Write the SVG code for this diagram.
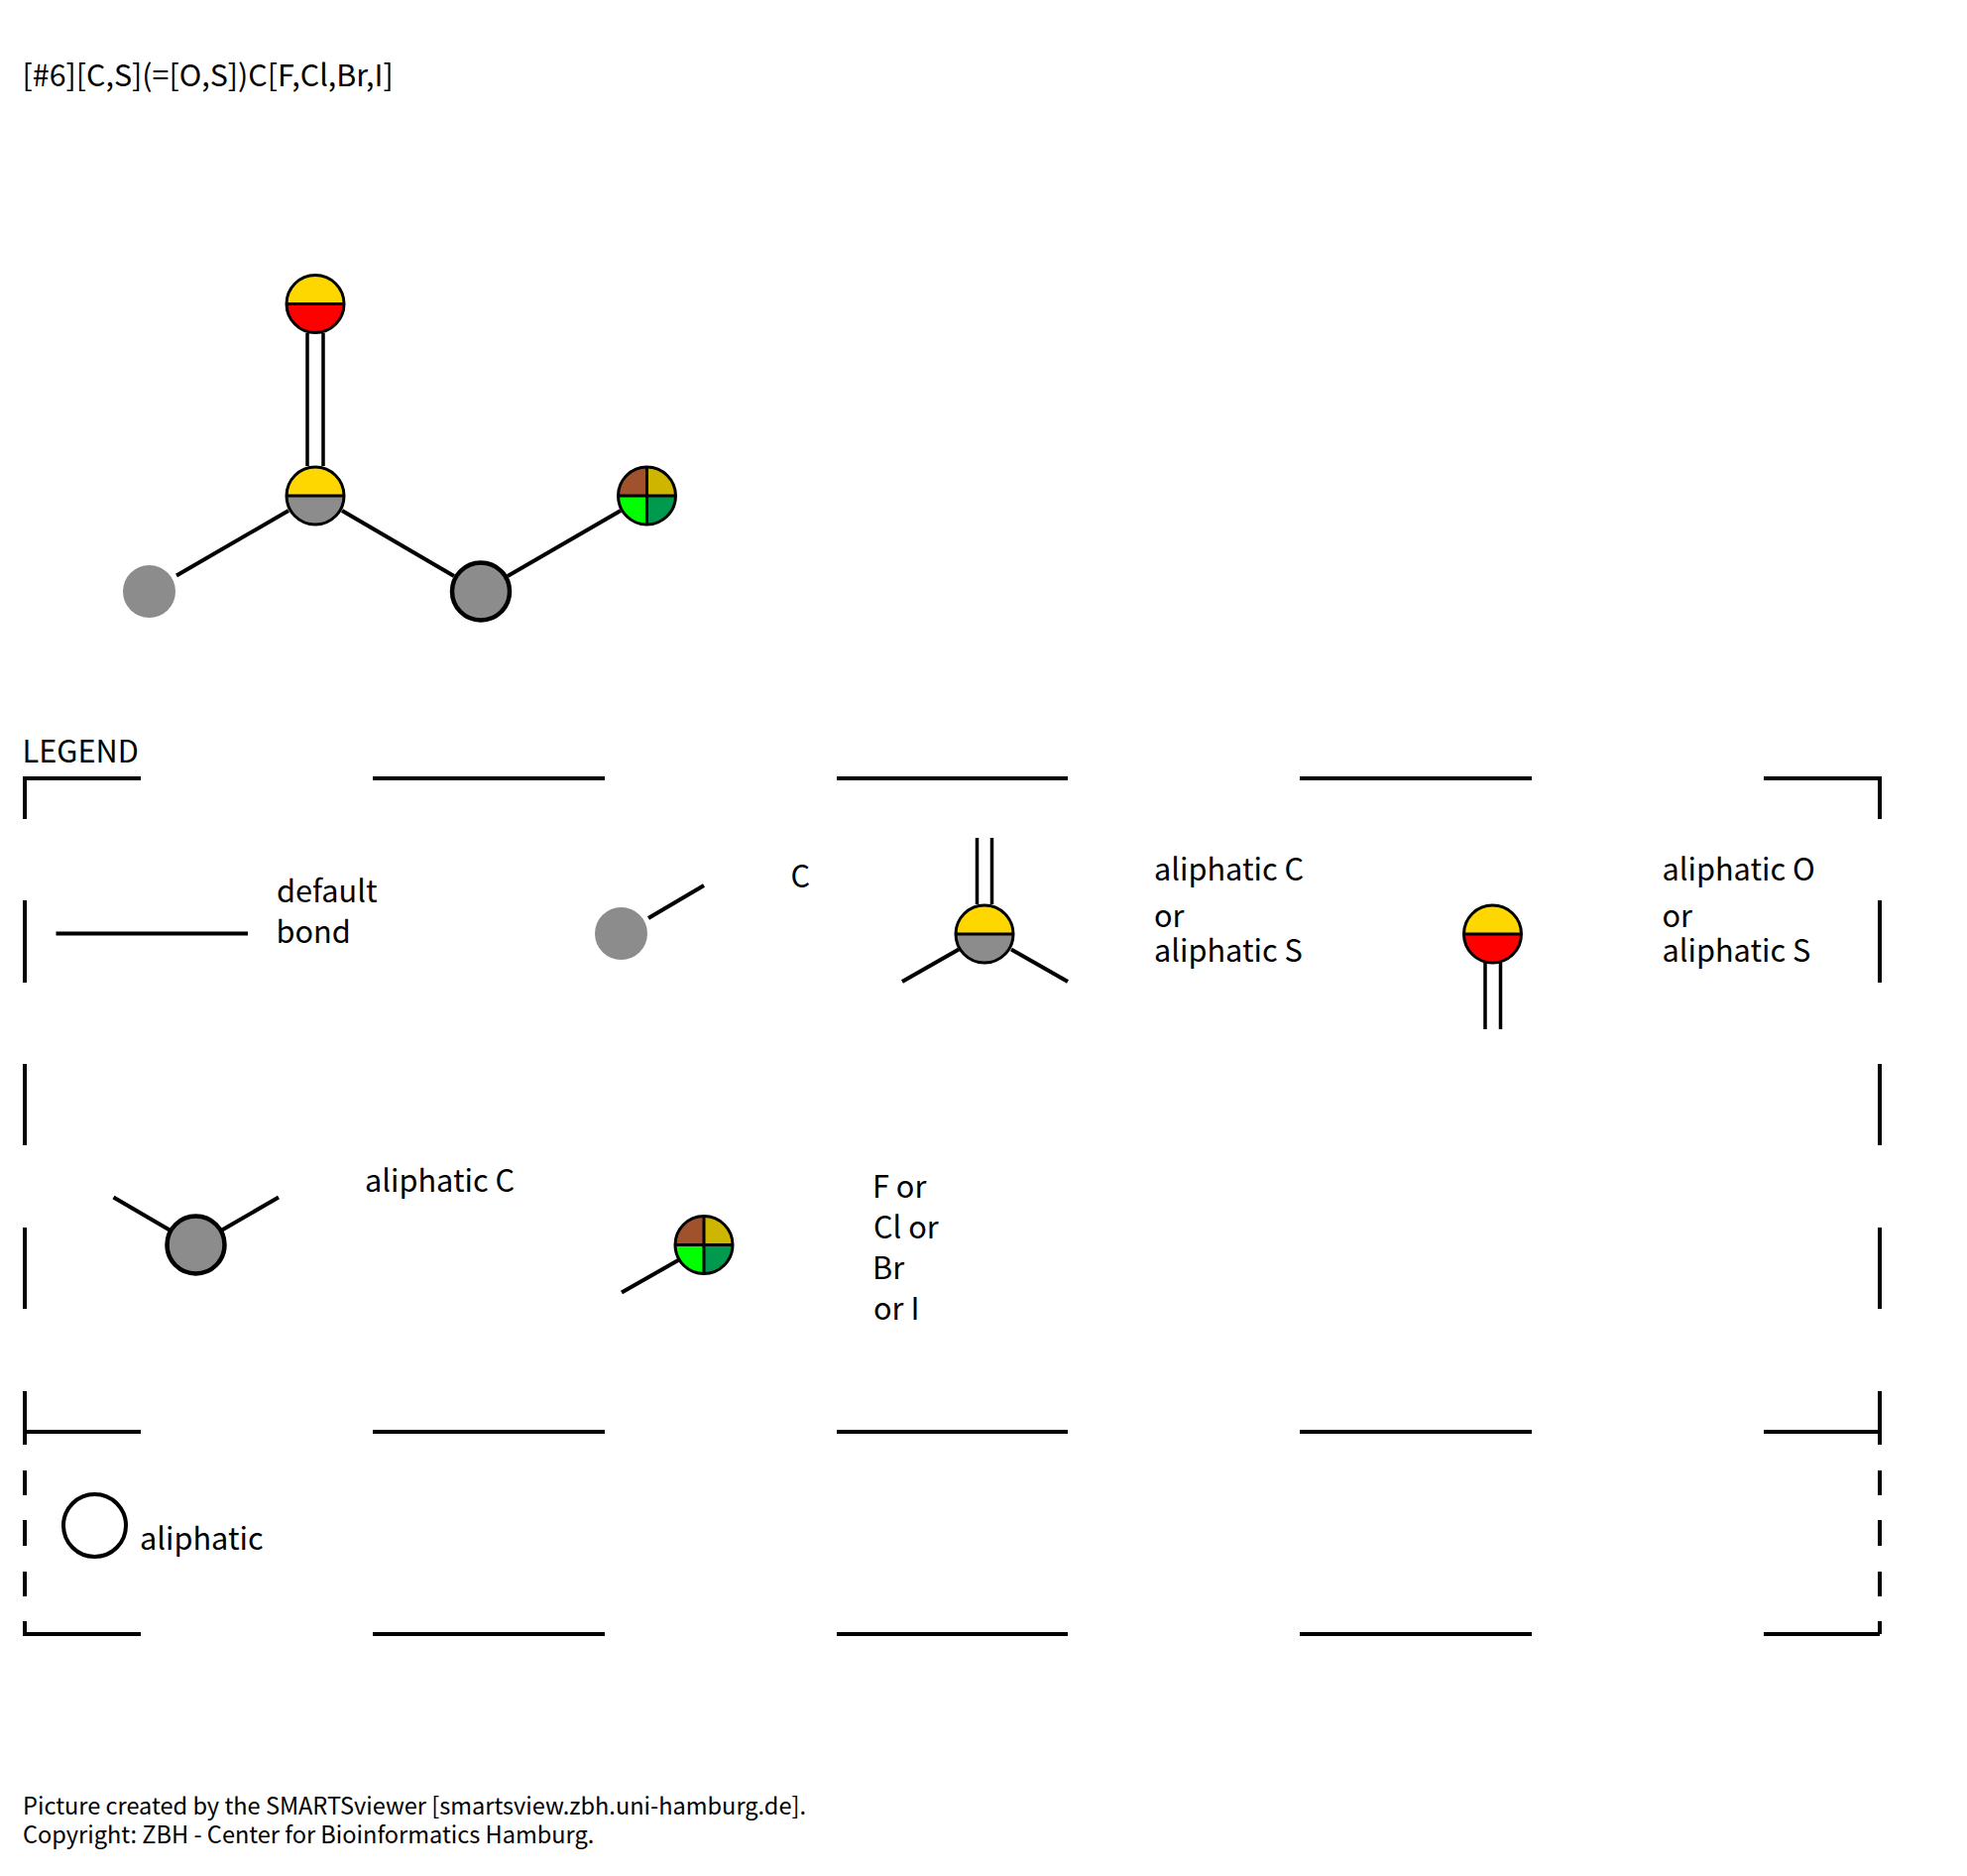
<svg xmlns="http://www.w3.org/2000/svg" width="1984" height="1892" viewBox="0 0 1984 1892">
<style>
text{font-family:"Noto Sans CJK SC","Noto Sans",sans-serif;font-size:30.7px;fill:#000}
.title{font-size:30.4px}
.small{font-size:23.55px}
.bond{stroke:#000;stroke-width:4;fill:none}
.thin{stroke:#000;stroke-width:3.5;fill:none}
.frame{stroke:#000;stroke-width:4;fill:none}
.o{stroke:#000;stroke-width:3;fill:none}
.s{stroke:#000;stroke-width:3}
</style>
<defs>
<g id="atomCS"><path d="M-29 0A29 29 0 0 1 29 0Z" fill="#ffd700"/><path d="M-29 0A29 29 0 0 0 29 0Z" fill="#8c8c8c"/><circle r="29" class="o"/><path d="M-29 0H29" class="s"/></g>
<g id="atomOS"><path d="M-29 0A29 29 0 0 1 29 0Z" fill="#ffd700"/><path d="M-29 0A29 29 0 0 0 29 0Z" fill="#ff0000"/><circle r="29" class="o"/><path d="M-29 0H29" class="s"/></g>
<g id="atomHal"><path d="M0 0H-29A29 29 0 0 1 0 -29Z" fill="#a0522d"/><path d="M0 0V-29A29 29 0 0 1 29 0Z" fill="#cdb500"/><path d="M0 0H-29A29 29 0 0 0 0 29Z" fill="#00ff00"/><path d="M0 0V29A29 29 0 0 0 29 0Z" fill="#009a4e"/><circle r="29" class="o"/><path d="M-29 0H29M0 -29V29" class="s"/></g>
<circle id="atomC" r="29" fill="#8c8c8c" stroke="#000" stroke-width="4.5"/>
<ellipse id="atomAny" rx="26.5" ry="26.5" fill="#8c8c8c"/>
</defs>
<rect width="1984" height="1892" fill="#fff"/>
<text id="title" class="title" x="22.500" y="87">[#6][C,S](=[O,S])C[F,Cl,Br,I]</text>
<g id="connectors">
<path class="thin" d="M310 336V470M326 336V470"/>
<path class="bond" d="M178 580.500L291 515M345 515L458 581M512 581L626 515"/>
<path class="bond" d="M56.500 941.500H250"/>
<path class="bond" d="M654 926L710 893"/>
<path class="thin" d="M985.500 845V912M1000.500 845V912"/>
<path class="bond" d="M910 990L967 957.500M1020 957.500L1077 990"/>
<path class="thin" d="M1498 971V1038M1513.500 971V1038"/>
<path class="bond" d="M114.500 1207.500L171 1240.500M224 1240.500L281 1207.500"/>
<path class="bond" d="M627 1303.500L685 1270.500"/>
</g>
<g id="molecule-atom-1"><use href="#atomOS" x="318" y="306.500"/></g>
<g id="molecule-atom-2"><use href="#atomCS" x="318" y="500"/></g>
<g id="molecule-atom-3"><use href="#atomAny" x="150.500" y="596.500"/></g>
<g id="molecule-atom-4"><use href="#atomC" x="485" y="596.500"/></g>
<g id="molecule-atom-5"><use href="#atomHal" x="652.500" y="500"/></g>
<text id="legend-title" x="22.500" y="768.500">LEGEND</text>
<g id="legend-frame">
<path class="frame" d="M25 786V785H142M376 785H610M844 785H1077M1311 785H1545M1779 785H1896V826M1896 908V991M1896 1073V1155M1896 1238V1320M1896 1403V1457M1896 1483V1508M1896 1533V1559M1896 1585V1610M1896 1635V1648M1896 1648H1779M1545 1648H1311M1077 1648H844M610 1648H376M142 1648H25V1635M25 1610V1585M25 1559V1533M25 1508V1483M25 1457V1403M25 1320V1238M25 1155V1073M25 991V908M25 826V785"/>
<path class="frame" d="M25 1444H142M376 1444H610M844 1444H1077M1311 1444H1545M1779 1444H1896"/>
</g>
<g id="legend-default-bond"><text x="279" y="910">default</text><text x="278.500" y="950.500">bond</text></g>
<g id="legend-any"><use href="#atomAny" x="626.500" y="941.500"/><text x="797.500" y="894.500">C</text></g>
<g id="legend-cs"><use href="#atomCS" x="993" y="942"/><text x="1164" y="887.500">aliphatic C</text><text x="1164" y="935">or</text><text x="1164" y="969.500">aliphatic S</text></g>
<g id="legend-os"><use href="#atomOS" x="1505.500" y="942"/><text x="1676.500" y="887.500">aliphatic O</text><text x="1676.500" y="935">or</text><text x="1676.500" y="969.500">aliphatic S</text></g>
<g id="legend-c"><use href="#atomC" x="197.500" y="1255.500"/><text x="368" y="1201.500">aliphatic C</text></g>
<g id="legend-hal"><use href="#atomHal" x="710" y="1255.500"/><text x="880" y="1207.500">F or</text><text x="881" y="1248.500">Cl or</text><text x="880" y="1289.500">Br</text><text x="881" y="1330.500">or I</text></g>
<g id="legend-aliphatic"><circle cx="95.500" cy="1538.500" r="31.500" fill="#fff" stroke="#000" stroke-width="4"/><text x="141" y="1562.500">aliphatic</text></g>
<text id="footer-1" class="small" x="23" y="1830">Picture created by the SMARTSviewer [smartsview.zbh.uni-hamburg.de].</text>
<text id="footer-2" class="small" x="23" y="1858.500">Copyright: ZBH - Center for Bioinformatics Hamburg.</text>
</svg>
